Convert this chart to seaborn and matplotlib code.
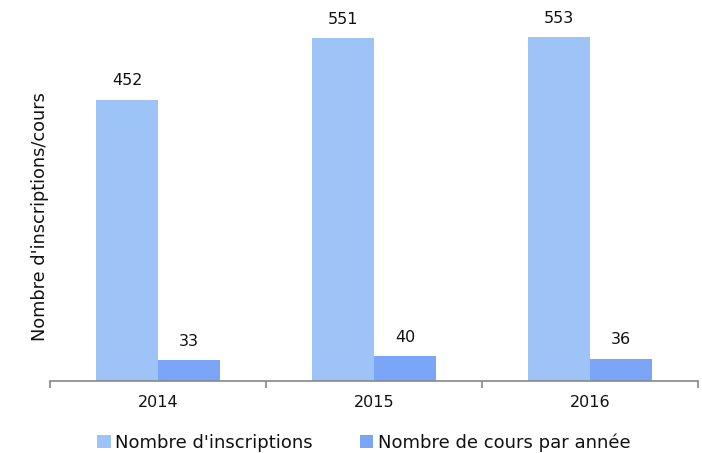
import matplotlib
matplotlib.use("Agg")
import matplotlib.pyplot as plt
import seaborn as sns
import pandas as pd

years = ["2014", "2015", "2016"]
inscriptions = [452, 551, 553]
cours = [33, 40, 36]
series_names = ["Nombre d'inscriptions", "Nombre de cours par année"]

df = pd.DataFrame({
    "Année": years * 2,
    "Valeur": inscriptions + cours,
    "Série": [series_names[0]] * 3 + [series_names[1]] * 3,
})

sns.set_theme(style="white")
plt.rcParams['font.family'] = ['DejaVu Sans']

fig = plt.figure(figsize=(7.02, 4.53), dpi=100)
ax = fig.add_axes([0.0712, 0.159, 0.9231, 0.797])

palette = ["#9DC3F7", "#7BA6F7"]
sns.barplot(data=df, x="Année", y="Valeur", hue="Série", palette=palette,
            width=0.574, ax=ax, saturation=1, legend=True, linewidth=0)

for c in ax.containers:
    ax.bar_label(c, padding=8, fontsize=11.5, color="#111111")

ax.set_xlim(-0.5, 2.5)
ax.set_ylim(0, 580)
ax.set_yticks([])
ax.set_xlabel("")
ax.set_ylabel("Nombre d'inscriptions/cours", fontsize=12.8, color="#111111")
ax.yaxis.set_label_coords(-0.002, 0.454)
for s in ["top", "right", "left"]:
    ax.spines[s].set_visible(False)
ax.spines["bottom"].set_color("#888888")
ax.spines["bottom"].set_linewidth(1.2)

ax.set_xticks([0, 1, 2])
ax.set_xticklabels(years, fontsize=11.5, color="#111111")
ax.tick_params(axis="x", which="major", length=0, pad=10)
ax.set_xticks([-0.5, 0.5, 1.5, 2.5], minor=True)
ax.tick_params(axis="x", which="minor", length=5, width=1.2, color="#888888", direction="out", bottom=True)

leg = ax.legend(loc="upper center", bbox_to_anchor=(0.484, -0.10), ncol=2, frameon=False,
                fontsize=13, handlelength=0.75, handleheight=0.75, handletextpad=0.25,
                columnspacing=2.6)
for t in leg.get_texts():
    t.set_color("#111111")

fig.savefig("out.png", dpi=100)
